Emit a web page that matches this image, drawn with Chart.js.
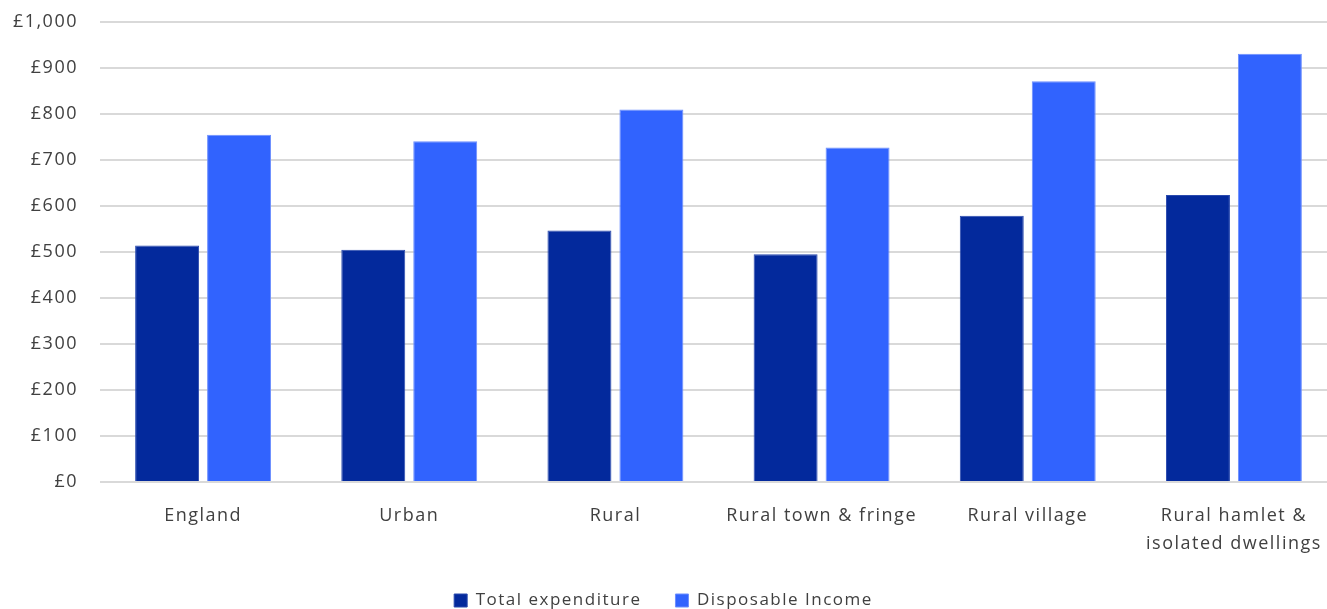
<!DOCTYPE html>
<html>
<head>
<meta charset="utf-8">
<script src="https://cdn.jsdelivr.net/npm/chart.js@4.4.1/dist/chart.umd.min.js"></script>
<style>
  html, body { margin: 0; padding: 0; background: #fff; }
  #wrap { width: 1327px; height: 609px; }
</style>
</head>
<body>
<div id="wrap"><canvas id="grafico"></canvas></div>
<script>
var categorias = ['England', 'Urban', 'Rural', 'Rural town & fringe', 'Rural village', ['Rural hamlet &', 'isolated dwellings']];
var totalExpenditure = [514, 505, 547, 495, 579, 624];
var disposableIncome = [755, 741, 810, 727, 871, 931];
var yTicks = [0, 100, 200, 300, 400, 500, 600, 700, 800, 900, 1000];

// espaçamento entre letras, altura fixa da legenda e área do gráfico passando da borda direita
var ajustes = {
    id: 'ajustes',
    afterInit: function (chart) {
        var leg = chart.legend;
        var fitOriginal = leg.fit;
        leg.fit = function () {
            fitOriginal.call(this);
            this.height = 51;
        };
    },
    afterLayout: function (chart) {
        var x = chart.scales.x;
        x.right += 10;
        x.width += 10;
        x.configure();
        chart.chartArea.right += 10;
        chart.chartArea.width += 10;
    },
    beforeLayout: function (chart) { chart.ctx.letterSpacing = '1.5px'; },
    beforeDraw: function (chart) { chart.ctx.letterSpacing = '1.5px'; }
};

var ctx = document.getElementById('grafico');
var myChart = new Chart(ctx, {
    type: 'bar',
    data: {
        labels: categorias,
        datasets: [{
            label: 'Total expenditure',
            data: totalExpenditure,
            backgroundColor: '#03299c',
            borderColor: '#2a4aae',
            borderWidth: 1
        }, {
            label: 'Disposable Income',
            data: disposableIncome,
            backgroundColor: '#3163fe',
            borderColor: '#6d8ffe',
            borderWidth: 1
        }]
    },
    plugins: [ajustes],
    options: {
        responsive: true,
        maintainAspectRatio: false,
        animation: false,
        datasets: {
            bar: {
                categoryPercentage: 0.698,
                barPercentage: 0.889
            }
        },
        layout: { padding: { top: 22, right: 0, left: 0, bottom: 0 } },
        plugins: {
            tooltip: { enabled: false },
            legend: {
                position: 'bottom',
                labels: {
                    boxWidth: 13,
                    boxHeight: 13,
                    padding: 34,
                    color: '#404040',
                    font: { family: 'Open Sans', size: 17 }
                }
            }
        },
        scales: {
            x: {
                grid: { display: false, drawTicks: false },
                border: { display: false },
                afterFit: function (scale) {
                    scale.height = 76;
                    scale.paddingLeft = 0;
                    scale.paddingRight = 0;
                },
                ticks: {
                    color: '#404040',
                    padding: 20,
                    maxRotation: 0,
                    autoSkip: false,
                    font: { family: 'Open Sans', size: 18, lineHeight: 1.556 }
                }
            },
            y: {
                min: 0,
                max: 1000,
                afterFit: function (scale) {
                    scale.width = 100;
                    scale.paddingTop = 0;
                    scale.paddingBottom = 0;
                },
                afterBuildTicks: function (scale) {
                    scale.ticks = yTicks.map(function (v) { return { value: v }; });
                },
                grid: { color: '#d9d9d9', lineWidth: 2, drawTicks: false },
                border: { display: false },
                ticks: {
                    color: '#404040',
                    padding: 22,
                    font: { family: 'Open Sans', size: 18 },
                    callback: function (v) { return '£' + v.toLocaleString('en-GB'); }
                }
            }
        }
    }
});
</script>
</body>
</html>
